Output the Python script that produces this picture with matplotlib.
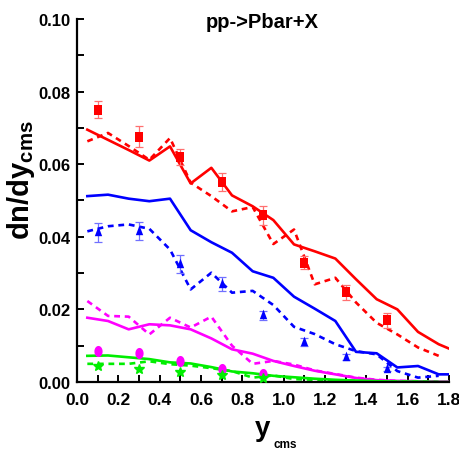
import matplotlib
matplotlib.use("Agg")
import matplotlib.pyplot as plt
import numpy as np
from matplotlib.ticker import MultipleLocator, FormatStrFormatter

plt.rcParams['font.family'] = ['Liberation Sans', 'DejaVu Sans']
plt.rcParams['mathtext.fontset'] = 'custom'
plt.rcParams['mathtext.bf'] = 'Liberation Sans:bold'
plt.rcParams['mathtext.rm'] = 'Liberation Sans:bold'

# ---- data ----
x_data = [0.1, 0.3, 0.5, 0.7, 0.9, 1.1, 1.3, 1.5]
red_data = [0.0750, 0.0676, 0.0620, 0.0550, 0.0459, 0.0329, 0.0247, 0.0170]
red_err = [0.0024, 0.0030, 0.0022, 0.0025, 0.0026, 0.0019, 0.0020, 0.0020]
blue_data = [0.0412, 0.0416, 0.0324, 0.0270, 0.0184, 0.0110, 0.0069, 0.0035]
blue_err = [0.0027, 0.0026, 0.0025, 0.0020, 0.0012, 0.0010, 0.0008, 0.0006]

x_mag_data = [0.1, 0.3, 0.5, 0.7, 0.9]
mag_data = [0.0085, 0.0079, 0.0058, 0.0035, 0.0022]
green_data = [0.0044, 0.0035, 0.0028, 0.0018, 0.0010]

x_solid = [0.05, 0.15, 0.25, 0.35, 0.45, 0.55, 0.65, 0.75, 0.85, 0.95,
           1.05, 1.15, 1.25, 1.35, 1.45, 1.55, 1.65, 1.75, 1.8]
x_dash = [0.05, 0.15, 0.25, 0.35, 0.45, 0.55, 0.65, 0.75, 0.85, 0.95,
          1.05, 1.15, 1.25, 1.35, 1.45, 1.55, 1.65, 1.75]

red_solid = [0.0695, 0.0667, 0.0639, 0.0610, 0.0649, 0.0547, 0.0590, 0.0514, 0.0484,
             0.0446, 0.0379, 0.0360, 0.0340, 0.0283, 0.0228, 0.0200, 0.0138, 0.0104, 0.0092]
red_dash = [0.0663, 0.0686, 0.0650, 0.0612, 0.0672, 0.0549, 0.0512, 0.0470, 0.0482,
            0.0380, 0.0420, 0.0269, 0.0287, 0.0219, 0.0163, 0.0131, 0.0095, 0.0072]
blue_solid = [0.0512, 0.0516, 0.0505, 0.0498, 0.0505, 0.0418, 0.0385, 0.0356, 0.0305,
              0.0287, 0.0235, 0.0202, 0.0168, 0.0083, 0.0079, 0.0040, 0.0044, 0.0021, 0.0021]
blue_dash = [0.0415, 0.0429, 0.0434, 0.0422, 0.0365, 0.0255, 0.0301, 0.0246, 0.0251,
             0.0212, 0.0152, 0.0132, 0.0104, 0.0085, 0.0076, 0.0030, 0.0012, 0.0017]
mag_solid = [0.0177, 0.0168, 0.0145, 0.0159, 0.0156, 0.0145, 0.0120, 0.0090, 0.0078,
             0.0058, 0.0044, 0.0031, 0.0021, 0.0011, 0.0005, 0.0003, 0.0002, 0.0001, 0.0001]
mag_dash = [0.0223, 0.0182, 0.0180, 0.0131, 0.0177, 0.0150, 0.0180, 0.0100, 0.0050,
            0.0058, 0.0048, 0.0032, 0.0022, 0.0012, 0.0006, 0.0003, 0.0002, 0.0001]
green_solid = [0.0072, 0.0073, 0.0068, 0.0063, 0.0054, 0.0051, 0.0041, 0.0029, 0.0024,
               0.0017, 0.0013, 0.0009, 0.0006, 0.0004, 0.0002, 0.0001, 0.0001, 0.0000, 0.0000]
green_dash = [0.0050, 0.0050, 0.0050, 0.0057, 0.0049, 0.0045, 0.0038, 0.0030, 0.0012,
              0.0018, 0.0008, 0.0006, 0.0004, 0.0003, 0.0002, 0.0001, 0.0001, 0.0000]

x_ticks = [0.0, 0.2, 0.4, 0.6, 0.8, 1.0, 1.2, 1.4, 1.6, 1.8]
y_ticks = [0.00, 0.02, 0.04, 0.06, 0.08, 0.10]

RED = '#ff0000'
BLUE = '#0000ff'
MAG = '#ff00ff'
GREEN = '#00ee00'

# tall marker shapes (reference is slightly stretched vertically)
tall_square = [(-1.0, -1.4), (1.0, -1.4), (1.0, 1.4), (-1.0, 1.4), (-1.0, -1.4)]
tall_tri = [(-1.0, -1.0), (1.0, -1.0), (0.0, 1.6), (-1.0, -1.0)]
_t = np.linspace(0, 2 * np.pi, 33)
tall_circle = list(zip(np.cos(_t), 1.35 * np.sin(_t)))

fig = plt.figure(figsize=(4.6, 4.52), dpi=100)
ax = fig.add_axes([0.1674, 0.1527, 0.8087, 0.8031])

lw = 1.9
dash = (0, (2.2, 1.8))
ax.plot(x_solid, red_solid, color=RED, lw=lw)
ax.plot(x_dash, red_dash, color=RED, lw=lw, linestyle=dash)
ax.plot(x_solid, blue_solid, color=BLUE, lw=lw)
ax.plot(x_dash, blue_dash, color=BLUE, lw=lw, linestyle=dash)
ax.plot(x_solid, mag_solid, color=MAG, lw=lw)
ax.plot(x_dash, mag_dash, color=MAG, lw=lw, linestyle=dash)
ax.plot(x_solid, green_solid, color=GREEN, lw=lw)
ax.plot(x_dash, green_dash, color=GREEN, lw=lw, linestyle=dash)

ax.errorbar(x_data, red_data, yerr=red_err, fmt='none', ecolor='#ff7070',
            elinewidth=0.9, capsize=3, capthick=0.9, zorder=5)
ax.plot(x_data, red_data, linestyle='none', marker=tall_square, color=RED, ms=7.5,
        mew=0, zorder=6)
ax.errorbar(x_data, blue_data, yerr=blue_err, fmt='none', ecolor='#7070ff',
            elinewidth=0.9, capsize=3, capthick=0.9, zorder=5)
ax.plot(x_data, blue_data, linestyle='none', marker=tall_tri, color=BLUE, ms=8.5,
        mew=0, zorder=6)
ax.plot(x_mag_data, mag_data, linestyle='none', marker=tall_circle, color=MAG, ms=8,
        mew=0, zorder=6)
ax.plot(x_mag_data, green_data, '*', color=GREEN, ms=7, zorder=6)

ax.set_xlim(0.0, 1.8)
ax.set_ylim(0.0, 0.10)
ax.set_xticks(x_ticks)
ax.set_yticks(y_ticks)
ax.xaxis.set_minor_locator(MultipleLocator(0.1))
ax.yaxis.set_minor_locator(MultipleLocator(0.01))
ax.xaxis.set_major_formatter(FormatStrFormatter('%.1f'))
ax.yaxis.set_major_formatter(FormatStrFormatter('%.2f'))

for s in ['top', 'right']:
    ax.spines[s].set_visible(False)
for s in ['left', 'bottom']:
    ax.spines[s].set_linewidth(1.6)

ax.tick_params(axis='both', which='both', direction='in', width=1.4)
ax.tick_params(axis='both', which='major', length=5)
ax.tick_params(axis='both', which='minor', length=5)
ax.tick_params(axis='x', which='major', pad=7, labelsize=12.5)
ax.tick_params(axis='y', which='major', pad=5, labelsize=12)
for lab in ax.get_xticklabels() + ax.get_yticklabels():
    lab.set_fontweight('bold')

# y label
ax.set_ylabel(r'$\mathbf{dn/dy_{cms}}$', fontsize=21)
ax.yaxis.set_label_coords(-0.108, 0.56)

# x label: large "y" with small "cms" subscript
fig.text(255 / 460, 1 - 436 / 452, 'y', fontsize=20, fontweight='bold',
         ha='left', va='baseline')
fig.text(273 / 460, 1 - 448 / 452, 'cms', fontsize=8.5, fontweight='bold',
         ha='left', va='baseline')

# title
fig.text(262 / 460, 1 - 28 / 452, 'pp->Pbar+X', ha='center', va='baseline',
         fontsize=14.5, fontweight='bold')

fig.savefig('out.png', dpi=100)
